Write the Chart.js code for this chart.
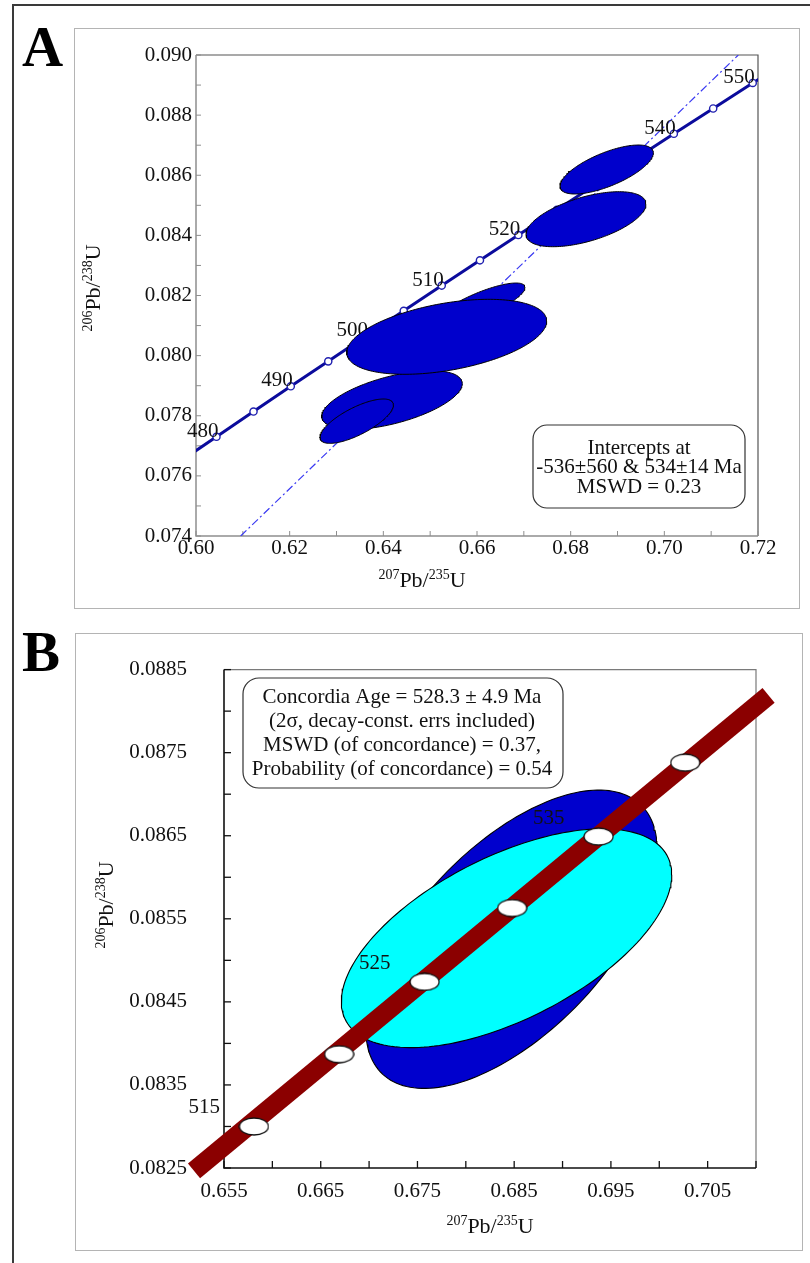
<!DOCTYPE html>
<html><head><meta charset="utf-8">
<script src="https://cdn.jsdelivr.net/npm/chart.js@4.4.1/dist/chart.umd.min.js"></script>
<style>
html,body{margin:0;padding:0;background:#fff;}
body{width:810px;height:1263px;position:relative;overflow:hidden;font-family:'Liberation Serif','Times New Roman',serif;}
.frame{position:absolute;border:1.5px solid #b4b4b4;box-sizing:border-box;}
.rule{position:absolute;background:#3a3a3a;}
.letter{position:absolute;font-weight:bold;font-size:57px;line-height:1;color:#000;}
.wrap{position:absolute;left:0;width:810px;}
</style></head><body>
<div class="rule" style="left:12px;top:4px;width:1.5px;height:1259px"></div>
<div class="rule" style="left:12px;top:4px;width:798px;height:1.5px"></div>
<div class="frame" style="left:74px;top:28px;width:726px;height:581px"></div>
<div class="frame" style="left:75px;top:633px;width:728px;height:618px"></div>
<div class="letter" style="left:22px;top:18px">A</div>
<div class="letter" style="left:22px;top:623px">B</div>
<div class="wrap" style="top:0;height:620px"><canvas id="ca"></canvas></div>
<div class="wrap" style="top:620px;height:643px"><canvas id="cb"></canvas></div>
<script>
const serif = "'Liberation Serif','Times New Roman',Times,serif";

// ---------------- Panel A data ----------------
const agesA  = [480,485,490,495,500,505,510,515,520,525,530,535,540,545,550];
const concXA = [0.60437,0.61228,0.62024,0.62824,0.63628,0.64436,0.65247,0.66063,0.66883,0.67707,0.68535,0.69367,0.70203,0.71043,0.71887];
const concYA = [0.07730,0.07814,0.07898,0.07981,0.08065,0.08149,0.08233,0.08317,0.08401,0.08485,0.08569,0.08653,0.08738,0.08822,0.08907];
const concEndXA = [0.59963,0.72226];
const concEndYA = [0.07680,0.08940];
const labelAgesA = [480,490,500,510,520,530,540,550];
const discordiaX = [0.60954,0.71580];
const discordiaY = [0.07400,0.09000];
// error ellipses (back to front): centre, half-extent x, half-extent y, correlation
const ellCxA  = [0.66064,0.64185,0.63431,0.65353,0.68769,0.68327];
const ellCyA  = [0.081684,0.078524,0.077819,0.080626,0.086191,0.084538];
const ellSxA  = [0.00961,0.01501,0.00784,0.02135,0.00997,0.01281];
const ellSyA  = [0.000732,0.000975,0.000738,0.001247,0.000815,0.000915];
const ellRhoA = [0.80,0.56,0.73,0.42,0.68,0.55];
const xLabelsA = ['0.60','0.62','0.64','0.66','0.68','0.70','0.72'];
const yLabelsA = ['0.074','0.076','0.078','0.080','0.082','0.084','0.086','0.088','0.090'];
const legendA = ['Intercepts at','-536±560 & 534±14 Ma','MSWD = 0.23'];

// ---------------- Panel B data ----------------
const agesB  = [515,520,525,530,535,540];
const markXB = [0.65810,0.66690,0.67574,0.68479,0.69373,0.70268];
const markYB = [0.08300,0.08387,0.08474,0.08563,0.08649,0.08738];
const labelAgesB = [515,525,535];
const bandXB = [0.6519,0.7113];
const bandYB = [0.082466,0.088189];
const ellCxB  = [0.68472,0.68421];
const ellCyB  = [0.085254,0.085266];
const ellSxB  = [0.015067,0.01708];
const ellSyB  = [0.001796,0.001317];
const ellRhoB = [0.60,0.58];
const ellColB = ['#0000cd','#00ffff'];
const xLabelsB = ['0.655','0.665','0.675','0.685','0.695','0.705'];
const yLabelsB = ['0.0825','0.0835','0.0845','0.0855','0.0865','0.0875','0.0885'];
const legendB = ['Concordia Age = 528.3 ± 4.9 Ma','(2σ, decay-const. errs included)','MSWD (of concordance) = 0.37,','Probability (of concordance) = 0.54'];

// ---------------- helpers ----------------
function zipXY(xs, ys){ return xs.map((x,i)=>({x:x, y:ys[i]})); }
function ellipsePts(cx, cy, sx, sy, rho){
  const pts=[], n=180, q=Math.sqrt(1-rho*rho);
  for(let k=0;k<=n;k++){ const t=2*Math.PI*k/n; pts.push({x:cx+sx*Math.cos(t), y:cy+sy*(rho*Math.cos(t)+q*Math.sin(t))}); }
  return pts;
}
function labelCb(labels){ return (v)=>{ const m=labels.find(l=>Math.abs(parseFloat(l)-v)<1e-9); return m===undefined?'':m; }; }
function roundRect(ctx,x,y,w,h,r){
  ctx.beginPath(); ctx.moveTo(x+r,y); ctx.arcTo(x+w,y,x+w,y+h,r); ctx.arcTo(x+w,y+h,x,y+h,r);
  ctx.arcTo(x,y+h,x,y,r); ctx.arcTo(x,y,x+w,y,r); ctx.closePath();
}
function drawIso(ctx, x, y, parts, rot){
  ctx.save(); ctx.translate(x,y); if(rot) ctx.rotate(rot);
  ctx.textAlign='left'; ctx.textBaseline='alphabetic'; ctx.fillStyle='#111';
  let w=0; const ws=[];
  parts.forEach(p=>{ ctx.font=(p[1]?14:22)+'px '+serif; const m=ctx.measureText(p[0]).width; ws.push(m); w+=m; });
  let cx=-w/2;
  parts.forEach((p,i)=>{ ctx.font=(p[1]?14:22)+'px '+serif; ctx.fillText(p[0],cx,p[1]?-8:0); cx+=ws[i]; });
  ctx.restore();
}
function axesPlugin(cfg){
  return { id:'axes'+cfg.id,
    beforeDatasetsDraw(chart){
      const {ctx, chartArea:a, scales:{x,y}} = chart;
      ctx.save();
      ctx.strokeStyle=cfg.frame; ctx.lineWidth=1.2;
      ctx.beginPath(); ctx.moveTo(a.left,a.top); ctx.lineTo(a.right,a.top); ctx.lineTo(a.right,a.bottom); ctx.stroke();
      ctx.strokeStyle=cfg.axis; ctx.lineWidth=cfg.aw;
      ctx.beginPath(); ctx.moveTo(a.left,a.top); ctx.lineTo(a.left,a.bottom); ctx.lineTo(a.right,a.bottom); ctx.stroke();
      ctx.lineWidth=cfg.tw;
      x.ticks.forEach(t=>{ const p=x.getPixelForValue(t.value); ctx.beginPath(); ctx.moveTo(p,a.bottom); ctx.lineTo(p,a.bottom-cfg.tl); ctx.stroke(); });
      y.ticks.forEach(t=>{ const p=y.getPixelForValue(t.value); ctx.beginPath(); ctx.moveTo(a.left,p); ctx.lineTo(a.left+cfg.tl,p); ctx.stroke(); });
      ctx.restore();
    }
  };
}
function makeChart(id, o){
  return new Chart(document.getElementById(id), {
    type:'line',
    data:{datasets:o.datasets.map((d,i)=>Object.assign({order:-i, pointHoverRadius:0, tension:0}, d))},
    options:{
      responsive:true, maintainAspectRatio:false, animation:false, events:[],
      layout:{padding:o.pad},
      plugins:{legend:{display:false}, tooltip:{enabled:false}},
      scales:{
        x:{type:'linear', min:o.x.min, max:o.x.max, grid:{display:false, drawTicks:false}, border:{display:false},
           afterFit:(s)=>{ s.height=o.x.h; },
           ticks:{stepSize:o.x.step, autoSkip:false, maxRotation:0, minRotation:0, padding:o.x.pad, color:'#111',
                  font:{family:serif, size:21}, callback:labelCb(o.x.labels)}},
        y:{type:'linear', min:o.y.min, max:o.y.max, grid:{display:false, drawTicks:false}, border:{display:false},
           afterFit:(s)=>{ s.width=o.y.w; },
           ticks:{stepSize:o.y.step, autoSkip:false, padding:o.y.pad, color:'#111',
                  font:{family:serif, size:21}, callback:labelCb(o.y.labels)}}
      }
    },
    plugins:o.plugins
  });
}

// ---------------- Chart A ----------------
const concLineA = [{x:concEndXA[0],y:concEndYA[0]}].concat(zipXY(concXA,concYA), [{x:concEndXA[1],y:concEndYA[1]}]);
const dsA = [
  {data:zipXY(discordiaX,discordiaY), borderColor:'#3a3af2', borderWidth:1.2, borderDash:[8,3,2,3], pointRadius:0, fill:false},
  {data:concLineA, borderColor:'#0b0b9c', borderWidth:3, pointRadius:0, fill:false},
  {tag:'markers', data:zipXY(concXA,concYA), showLine:false, pointRadius:3.6, pointBackgroundColor:'#ffffff', pointBorderColor:'#2020b0', pointBorderWidth:1.4}
];
ellCxA.forEach((c,i)=>dsA.push({data:ellipsePts(c,ellCyA[i],ellSxA[i],ellSyA[i],ellRhoA[i]), fill:'shape', backgroundColor:'#0000cc', borderColor:'#000', borderWidth:1, pointRadius:0}));

const extrasA = { id:'extrasA',
  afterDatasetDraw(chart,args){
    if(chart.data.datasets[args.index].tag!=='markers') return;
    const {ctx, scales:{x,y}} = chart;
    ctx.save(); ctx.font='21px '+serif; ctx.fillStyle='#111'; ctx.textAlign='right'; ctx.textBaseline='alphabetic';
    labelAgesA.forEach(age=>{ const i=agesA.indexOf(age); ctx.fillText(String(age), x.getPixelForValue(concXA[i])+2, y.getPixelForValue(concYA[i])); });
    ctx.restore();
  },
  afterDatasetsDraw(chart){
    const {ctx} = chart;
    ctx.save();
    roundRect(ctx,533,425,212,83,14); ctx.fillStyle='#fff'; ctx.fill(); ctx.strokeStyle='#333'; ctx.lineWidth=1.2; ctx.stroke();
    ctx.font='21px '+serif; ctx.fillStyle='#111'; ctx.textAlign='center'; ctx.textBaseline='middle';
    legendA.forEach((t,i)=>ctx.fillText(t,639,448+i*19.5));
    ctx.restore();
    drawIso(ctx,422,587,[['207',1],['Pb/',0],['235',1],['U',0]]);
    drawIso(ctx,100,288,[['206',1],['Pb/',0],['238',1],['U',0]],-Math.PI/2);
  }
};
makeChart('ca',{
  datasets:dsA,
  pad:{left:136,right:52,top:55,bottom:44},
  x:{min:0.60,max:0.72,step:0.01,h:40,pad:0,labels:xLabelsA},
  y:{min:0.074,max:0.090,step:0.001,w:60,pad:4,labels:yLabelsA},
  plugins:[axesPlugin({id:'A',frame:'#555',axis:'#8e8e8e',aw:1.5,tw:1,tl:5}), extrasA]
});

// ---------------- Chart B ----------------
function markerCanvas(w,h){
  const c=document.createElement('canvas'); c.width=w; c.height=h;
  const g=c.getContext('2d'); g.beginPath(); g.ellipse(w/2,h/2,w/2-1,h/2-1,0,0,2*Math.PI);
  g.fillStyle='#fff'; g.fill(); g.lineWidth=1.3; g.strokeStyle='#111'; g.stroke(); return c;
}
const dsB = [];
ellCxB.forEach((c,i)=>dsB.push({tag:i===ellCxB.length-1?'lastEll':'', data:ellipsePts(c,ellCyB[i],ellSxB[i],ellSyB[i],ellRhoB[i]), fill:'shape', backgroundColor:ellColB[i], borderColor:'#000', borderWidth:1.1, pointRadius:0}));
dsB.push({data:zipXY(bandXB,bandYB), borderColor:'#8b0000', borderWidth:19, borderCapStyle:'butt', pointRadius:0, fill:false, clip:false});
dsB.push({data:zipXY(markXB,markYB), showLine:false, pointRadius:10, pointStyle:markerCanvas(31,19)});

const extrasB = { id:'extrasB',
  afterDatasetDraw(chart,args){
    if(chart.data.datasets[args.index].tag!=='lastEll') return;
    const {ctx, scales:{x,y}} = chart;
    ctx.save(); ctx.font='21px '+serif; ctx.fillStyle='#111'; ctx.textAlign='right'; ctx.textBaseline='alphabetic';
    labelAgesB.forEach(age=>{ const i=agesB.indexOf(age); ctx.fillText(String(age), x.getPixelForValue(markXB[i])-34, y.getPixelForValue(markYB[i])-13); });
    ctx.restore();
  },
  afterDatasetsDraw(chart){
    const {ctx} = chart;
    ctx.save();
    roundRect(ctx,243,58,320,110,16); ctx.fillStyle='#fff'; ctx.fill(); ctx.strokeStyle='#333'; ctx.lineWidth=1.2; ctx.stroke();
    ctx.font='21px '+serif; ctx.fillStyle='#111'; ctx.textAlign='center'; ctx.textBaseline='middle';
    legendB.forEach((t,i)=>ctx.fillText(t,402,77+i*24));
    ctx.restore();
    drawIso(ctx,490,613,[['207',1],['Pb/',0],['235',1],['U',0]]);
    drawIso(ctx,113,285,[['206',1],['Pb/',0],['238',1],['U',0]],-Math.PI/2);
  }
};
makeChart('cb',{
  datasets:dsB,
  pad:{left:124,right:54,top:47,bottom:55},
  x:{min:0.655,max:0.710,step:0.005,h:40,pad:11,labels:xLabelsB},
  y:{min:0.0825,max:0.0885,step:0.0005,w:100,pad:37,labels:yLabelsB},
  plugins:[axesPlugin({id:'B',frame:'#7a7a7a',axis:'#111',aw:1.6,tw:1.3,tl:7}), extrasB]
});
</script>
</body></html>
